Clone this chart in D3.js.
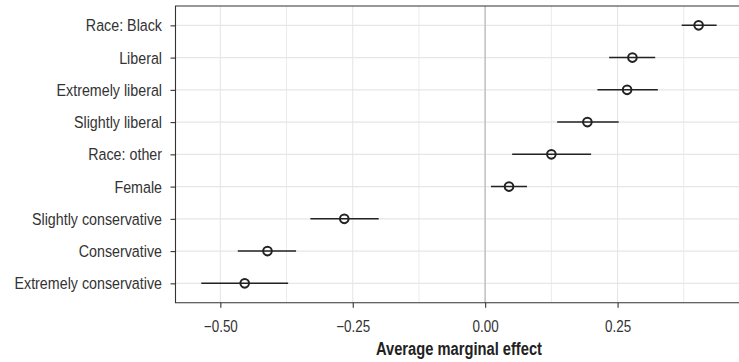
<!DOCTYPE html>
<html>
<head>
<meta charset="utf-8">
<script src="https://cdn.jsdelivr.net/npm/d3@7"></script>
<style>
  body { margin: 0; background: #fff; }
  svg text { font-family: "Liberation Sans", Arial, sans-serif; }
</style>
</head>
<body>
<div id="chart"></div>
<script>
// terms, top to bottom
var terms = ["Race: Black", "Liberal", "Extremely liberal", "Slightly liberal", "Race: other",
             "Female", "Slightly conservative", "Conservative", "Extremely conservative"];
var ame   = [0.403, 0.278, 0.268, 0.193, 0.125, 0.045, -0.266, -0.411, -0.454];
var lower = [0.371, 0.234, 0.212, 0.136, 0.051, 0.011, -0.330, -0.467, -0.536];
var upper = [0.437, 0.321, 0.326, 0.252, 0.200, 0.079, -0.201, -0.357, -0.372];
var xTicks = [-0.50, -0.25, 0.00, 0.25];
var xMinor = [-0.375, -0.125, 0.125, 0.375];

var width = 739, height = 362;
var pLeft = 175.5, pTop = 6, pBottom = 302.7, pRight = 742.4;
var squeeze = 0.84; // fake a condensed face

var rows = terms.map(function (t, i) {
  return { term: t, est: ame[i], lo: lower[i], hi: upper[i] };
});

var svg = d3.select("#chart").append("svg")
  .attr("width", width)
  .attr("height", height);

// x domain: data range + 5% on each side
var lo = d3.min(lower), hi = d3.max(upper);
var pad = (hi - lo) * 0.05;
var x = d3.scaleLinear().domain([lo - pad, hi + pad]).range([pLeft, pRight]);
var y = d3.scalePoint().domain(terms).range([pTop, pBottom]).padding(0.6);

var grid = svg.append("g");
// minor + major vertical grid
grid.selectAll(".vminor").data(xMinor).enter().append("line")
  .attr("x1", function (d) { return x(d); }).attr("x2", function (d) { return x(d); })
  .attr("y1", pTop).attr("y2", pBottom)
  .attr("stroke", "#ebebeb").attr("stroke-width", 1);
grid.selectAll(".vmajor").data(xTicks).enter().append("line")
  .attr("x1", function (d) { return x(d); }).attr("x2", function (d) { return x(d); })
  .attr("y1", pTop).attr("y2", pBottom)
  .attr("stroke", "#e6e6e6").attr("stroke-width", 1.1);
grid.selectAll(".hmajor").data(terms).enter().append("line")
  .attr("x1", pLeft).attr("x2", pRight)
  .attr("y1", function (d) { return y(d); }).attr("y2", function (d) { return y(d); })
  .attr("stroke", "#e6e6e6").attr("stroke-width", 1.1);

// zero reference line
svg.append("line")
  .attr("x1", x(0)).attr("x2", x(0))
  .attr("y1", pTop).attr("y2", pBottom)
  .attr("stroke", "#c4c4c4").attr("stroke-width", 1.6);

// whiskers
svg.selectAll(".ci").data(rows).enter().append("line")
  .attr("x1", function (d) { return x(d.lo); })
  .attr("x2", function (d) { return x(d.hi); })
  .attr("y1", function (d) { return y(d.term); })
  .attr("y2", function (d) { return y(d.term); })
  .attr("stroke", "#222").attr("stroke-width", 1.5);

// points
svg.selectAll(".pt").data(rows).enter().append("circle")
  .attr("cx", function (d) { return x(d.est); })
  .attr("cy", function (d) { return y(d.term); })
  .attr("r", 4.3)
  .attr("fill", "none")
  .attr("stroke", "#222").attr("stroke-width", 2);

// panel border (top / left / bottom)
svg.append("path")
  .attr("d", "M" + pRight + "," + pTop + "H" + pLeft + "V" + pBottom + "H" + pRight)
  .attr("fill", "none").attr("stroke", "#333").attr("stroke-width", 1.1);

// axes
var xAxis = svg.append("g")
  .attr("transform", "translate(0," + pBottom + ")")
  .call(d3.axisBottom(x).tickValues(xTicks).tickSize(5).tickPadding(13)
    .tickFormat(function (d) { return d3.format(".2f")(d).replace("-", "\u2212"); }));
xAxis.select(".domain").remove();
xAxis.selectAll(".tick line").attr("stroke", "#333").attr("stroke-width", 1.1);
xAxis.selectAll("text")
  .attr("font-size", 16).attr("fill", "#333")
  .attr("transform", "scale(" + squeeze + ",1)");

var yAxis = svg.append("g")
  .attr("transform", "translate(" + pLeft + ",0)")
  .call(d3.axisLeft(y).tickSize(5));
yAxis.select(".domain").remove();
yAxis.selectAll(".tick line").attr("stroke", "#333").attr("stroke-width", 1.1);
yAxis.selectAll("text")
  .attr("font-size", 17).attr("fill", "#333")
  .attr("x", -13.5 / squeeze)
  .attr("transform", "scale(" + squeeze + ",1)");

// axis title, centred on the panel
svg.append("g")
  .attr("transform", "translate(" + (pLeft + pRight) / 2 + ",355)")
  .append("text")
  .attr("text-anchor", "middle")
  .attr("transform", "scale(" + squeeze + ",1)")
  .attr("font-size", 17.5)
  .attr("font-weight", "bold")
  .attr("fill", "#222")
  .text("Average marginal effect");
</script>
</body>
</html>
